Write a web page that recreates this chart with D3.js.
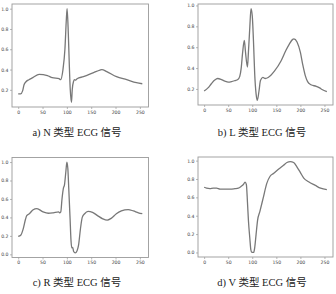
<!DOCTYPE html>
<html><head><meta charset="utf-8">
<script src="https://cdn.jsdelivr.net/npm/d3@7/dist/d3.min.js"></script>
<style>html,body{margin:0;padding:0;background:#fff;}svg{display:block;}</style>
</head><body><svg id="c" width="336" height="294"></svg>
<script>
// ---- data ----
const nX = [0,5,9,12,16,22,30,43,60,70,84,87,92,96,99,100.5,103,105,107,109.5,111,113.5,116,118,121,134,155,168,172,182,202,223,243,255];
const nY = [0.16,0.16,0.19,0.25,0.28,0.30,0.32,0.353,0.34,0.32,0.31,0.30,0.40,0.60,0.90,1.0,0.75,0.45,0.20,0.077,0.20,0.28,0.30,0.295,0.31,0.33,0.37,0.395,0.40,0.38,0.33,0.30,0.27,0.26];

const lX = [0,8,15,22,28,36,43,50,57,64,70,74,77,80,83.5,86,90,92,95,97.4,100,103,105,108,110.5,114,117,122,127,133,146,160,170,177,184,186.5,193,200,205,210,215,222,233,240,245,255];
const lY = [0.18,0.21,0.25,0.285,0.30,0.29,0.275,0.265,0.27,0.28,0.29,0.32,0.40,0.55,0.665,0.55,0.41,0.55,0.80,0.97,0.90,0.60,0.35,0.15,0.09,0.18,0.28,0.31,0.30,0.31,0.37,0.47,0.57,0.63,0.675,0.68,0.65,0.55,0.43,0.33,0.27,0.24,0.225,0.21,0.195,0.175];

const rX = [0,5.6,10.5,15,17.5,23,30,38.5,51,62,72,83,85,87.5,90,93,95,98,100,102,104,106.5,108.5,110,112,114,117,121,124,128,131.6,136.5,143.5,152.7,163,173.7,182.8,191,201.7,212,226,236.7,247,255];
const rY = [0.195,0.21,0.28,0.38,0.42,0.44,0.48,0.495,0.46,0.445,0.45,0.46,0.45,0.46,0.60,0.72,0.75,0.90,1.0,0.93,0.70,0.40,0.15,0.07,0.075,0.03,0.015,0.04,0.10,0.28,0.40,0.44,0.465,0.455,0.42,0.385,0.37,0.39,0.44,0.47,0.485,0.47,0.45,0.44];

const vX = [0,5,12,19,26,33,43,54,64,71,77,81.5,85,87.7,90,92,95,97,99,103,105,108,111,116,123,130,137,144,155,165,172,179,186,193,200,207,217,231,242,255];
const vY = [0.71,0.70,0.695,0.70,0.70,0.69,0.69,0.69,0.695,0.70,0.72,0.74,0.765,0.74,0.55,0.35,0.15,0.03,0.0,0.0,0.05,0.20,0.35,0.45,0.60,0.75,0.83,0.86,0.91,0.95,0.98,0.99,0.98,0.93,0.87,0.81,0.77,0.73,0.70,0.685];

const xTicks = [0,50,100,150,200,250];
const yTicks = [0.0,0.2,0.4,0.6,0.8,1.0];
const captions = ["a) N 类型 ECG 信号","b) L 类型 ECG 信号","c) R 类型 ECG 信号","d) V 类型 ECG 信号"];

// ---- layout ----
const panels = [
  {xs:nX, ys:nY, r:{x:12, y:4, w:136.5, h:103}, cap:{x:77, y:136}},
  {xs:lX, ys:lY, r:{x:198, y:4, w:135, h:101}, cap:{x:262, y:136}},
  {xs:rX, ys:rY, r:{x:12, y:157.5, w:136.5, h:100}, cap:{x:77, y:286}},
  {xs:vX, ys:vY, r:{x:198, y:157, w:135, h:100}, cap:{x:262, y:286}}
];

const svg = d3.select("#c");
panels.forEach((p,i)=>{
  const data = p.xs.map((x,k)=>({x, y:p.ys[k]}));
  const [mn, mx] = d3.extent(p.ys);
  const pad = 0.05*(mx-mn);
  const x = d3.scaleLinear().domain([-12.75, 267.75]).range([p.r.x, p.r.x+p.r.w]);
  const y = d3.scaleLinear().domain([mn-pad, mx+pad]).range([p.r.y+p.r.h, p.r.y]);
  const g = svg.append("g");
  const yt = yTicks.filter(t => t>=mn-pad-1e-9 && t<=mx+pad+1e-9);
  const xa = g.append("g").attr("transform",`translate(0,${p.r.y+p.r.h})`)
    .call(d3.axisBottom(x).tickValues(xTicks).tickSize(2).tickPadding(1.5).tickFormat(d3.format("d")));
  const ya = g.append("g").attr("transform",`translate(${p.r.x},0)`)
    .call(d3.axisLeft(y).tickValues(yt).tickSize(2).tickPadding(1.5).tickFormat(d3.format(".1f")));
  [xa,ya].forEach(a=>{
    a.select(".domain").remove();
    a.selectAll("line").attr("stroke","#888").attr("stroke-width",0.6);
    a.selectAll("text").attr("fill","#444").attr("font-size","4.6px").attr("font-family","DejaVu Sans");
  });
  g.append("rect").attr("x",p.r.x).attr("y",p.r.y).attr("width",p.r.w).attr("height",p.r.h)
    .attr("fill","none").attr("stroke","#9a9a9a").attr("stroke-width",0.9);
  g.append("path").datum(data)
    .attr("d", d3.line().x(d=>x(d.x)).y(d=>y(d.y)).curve(d3.curveMonotoneX))
    .attr("fill","none").attr("stroke","#787878").attr("stroke-width",1.3);
  svg.append("text").attr("x",p.cap.x).attr("y",p.cap.y).attr("text-anchor","middle")
    .attr("font-family","'Liberation Serif','Noto Sans CJK SC',serif").attr("font-size","10.5px")
    .attr("fill","#222").text(captions[i]);
});
</script>
</body></html>
